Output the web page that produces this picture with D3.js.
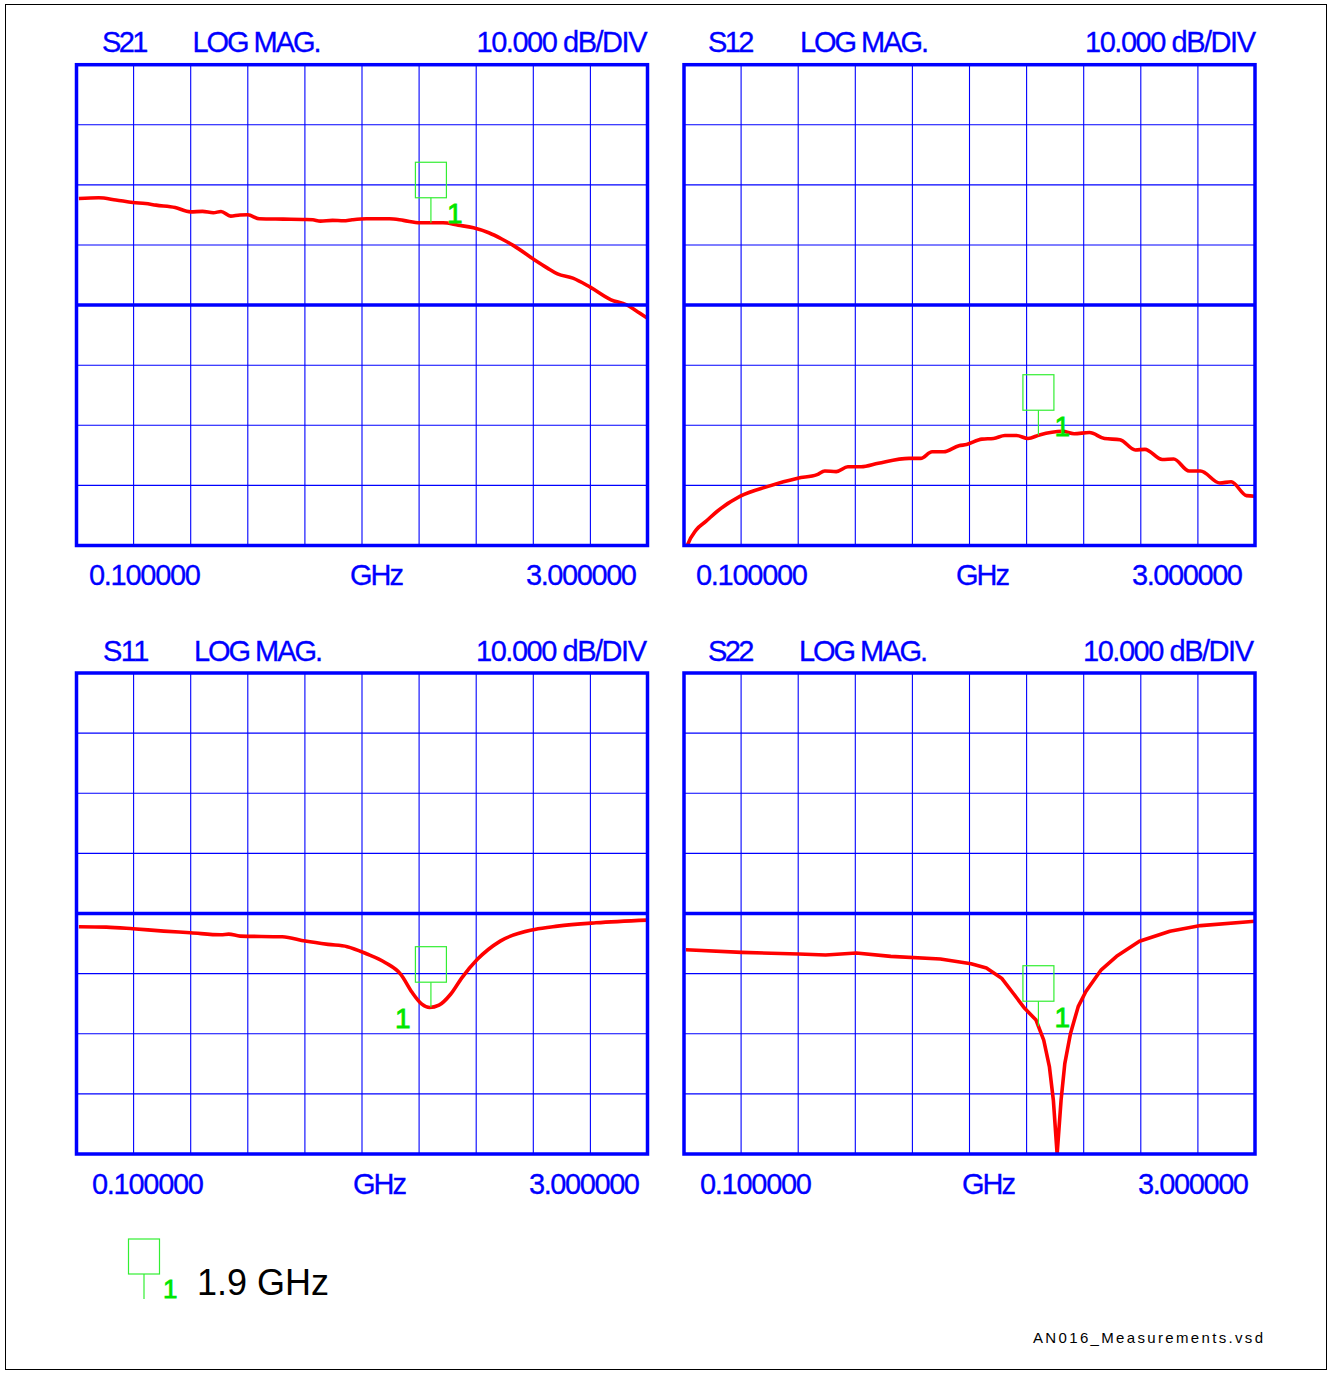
<!DOCTYPE html>
<html>
<head>
<meta charset="utf-8">
<script src="https://cdn.jsdelivr.net/npm/d3@7"></script>
<style>
  html, body { margin: 0; padding: 0; background: #ffffff; }
  svg { display: block; }
</style>
</head>
<body>
<svg id="chart" width="1330" height="1373"></svg>
<script>
// ---------------- DATA ----------------
const freqStart = 0.1;      // GHz
const freqStop = 3.0;       // GHz
const dbPerDiv = 10;
const markerFreq = 1.9;     // GHz
const xTickLabels = ["0.100000", "GHz", "3.000000"];
const formatLabel = "LOG MAG.";
const scaleLabel = "10.000 dB/DIV";
const legendText = "1.9 GHz";
const markerName = "1";
const footerText = "AN016_Measurements.vsd";

// [frequency GHz, dB]
const s21 = [[0.112,17.73],[0.213,17.85],[0.30,17.5],[0.387,17.07],[0.45,16.9],[0.504,16.63],
  [0.601,16.24],[0.679,15.52],[0.74,15.6],[0.795,15.36],[0.834,15.58],[0.883,14.81],[0.93,15.0],
  [0.970,15.03],[1.028,14.36],[1.15,14.3],[1.262,14.25],[1.30,14.2],[1.339,13.98],[1.40,14.1],
  [1.456,14.03],[1.50,14.2],[1.572,14.36],[1.689,14.36],[1.76,14.1],[1.844,13.70],[1.961,13.70],
  [2.039,13.3],[2.116,12.87],[2.194,12.04],[2.26,11.0],[2.320,9.89],[2.427,7.51],[2.49,6.2],
  [2.543,5.19],[2.621,4.48],[2.709,2.98],[2.815,0.88],[2.893,0.06],[2.94,-0.9],[3.0,-2.2]];

const s12 = [[0.112,-40.5],[0.118,-39.9],[0.162,-37.4],[0.211,-36.0],[0.269,-34.3],[0.386,-31.8],
  [0.523,-30.2],[0.678,-28.8],[0.776,-28.2],[0.815,-27.6],[0.873,-27.7],[0.932,-26.9],[1.000,-26.9],
  [1.087,-26.3],[1.243,-25.5],[1.302,-25.5],[1.360,-24.4],[1.419,-24.4],[1.496,-23.4],[1.535,-23.2],
  [1.613,-22.3],[1.672,-22.2],[1.730,-21.7],[1.789,-21.7],[1.847,-22.2],[1.905,-21.6],[2.022,-21.0],
  [2.081,-21.4],[2.159,-21.2],[2.236,-22.2],[2.314,-22.4],[2.392,-24.1],[2.441,-24.0],[2.529,-25.7],
  [2.587,-25.6],[2.665,-27.6],[2.723,-27.6],[2.821,-29.6],[2.879,-29.4],[2.957,-31.7],[3.0,-31.8]];

const s11 = [[0.112,-2.21],[0.252,-2.27],[0.387,-2.54],[0.543,-2.93],[0.679,-3.20],[0.834,-3.54],
  [0.873,-3.43],[0.931,-3.76],[1.145,-3.87],[1.262,-4.59],[1.378,-5.14],[1.475,-5.52],[1.572,-6.69],
  [1.669,-8.18],[1.747,-10.11],[1.805,-13.15],[1.854,-15.08],[1.893,-15.64],[1.941,-15.25],
  [2.000,-13.43],[2.058,-10.66],[2.136,-7.62],[2.252,-4.59],[2.427,-2.65],[2.543,-2.10],
  [2.738,-1.55],[3.0,-1.10]];

const s22 = [[0.110,-6.02],[0.392,-6.46],[0.683,-6.74],[0.819,-6.91],[0.975,-6.57],[1.150,-7.13],
  [1.402,-7.58],[1.558,-8.36],[1.636,-9.08],[1.713,-10.75],[1.772,-13.26],[1.830,-15.77],
  [1.888,-17.72],[1.927,-21.06],[1.956,-25.52],[1.976,-31.09],[1.995,-40.0],[2.015,-31.09],
  [2.034,-24.96],[2.063,-19.94],[2.102,-15.49],[2.141,-12.98],[2.219,-9.36],[2.297,-7.13],
  [2.413,-4.62],[2.568,-2.95],[2.724,-2.01],[3.0,-1.28]];

// ---------------- LAYOUT ----------------
const BLUE = "#0000ff", RED = "#ff0000", GREEN_LINE = "#33ee33", GREEN_TEXT = "#00e600";
const FONT = "'Liberation Sans', Arial, Helvetica, sans-serif";

const panels = [
  { name: "S21", data: s21, left: 76.5, right: 647.5, top: 64.7, bottom: 545.5, labelSide: "right", curve: d3.curveMonotoneX,
    t: [102, 192.5, 476.5], a: [89, 350, 526] },
  { name: "S12", data: s12, left: 684, right: 1255, top: 64.7, bottom: 545.5, labelSide: "right", curve: d3.curveMonotoneX,
    t: [708, 800, 1085], a: [696, 956, 1132] },
  { name: "S11", data: s11, left: 76.5, right: 647.5, top: 673, bottom: 1154, labelSide: "left", curve: d3.curveMonotoneX,
    t: [103, 194, 476], a: [92, 353, 529] },
  { name: "S22", data: s22, left: 684, right: 1255, top: 673, bottom: 1154, labelSide: "right", curve: d3.curveLinear,
    t: [708, 799, 1083], a: [700, 962, 1138] }
];

const svg = d3.select("#chart");

// outer frame
svg.append("rect").attr("x", 5.5).attr("y", 4.5).attr("width", 1321).attr("height", 1365)
  .attr("fill", "none").attr("stroke", "#000").attr("stroke-width", 1);

function interpAt(data, f) {
  const i = d3.bisector(d => d[0]).left(data, f);
  if (i <= 0) return data[0][1];
  if (i >= data.length) return data[data.length - 1][1];
  const a = data[i - 1], b = data[i];
  return a[1] + (b[1] - a[1]) * (f - a[0]) / (b[0] - a[0]);
}

function addText(g, str, x, y, size, fill, len, adjust, strokeW) {
  const t = g.append("text").attr("x", x).attr("y", y)
    .attr("font-family", FONT).attr("font-size", size).attr("fill", fill).text(str);
  if (len) t.attr("textLength", len).attr("lengthAdjust", adjust || "spacing");
  if (strokeW) t.attr("stroke", fill).attr("stroke-width", strokeW);
  return t;
}

panels.forEach((p, idx) => {
  const x = d3.scaleLinear().domain([freqStart, freqStop]).range([p.left, p.right]);
  const y = d3.scaleLinear().domain([-4 * dbPerDiv, 4 * dbPerDiv]).range([p.bottom, p.top]);
  const g = svg.append("g");

  const xDivs = d3.range(1, 10).map(i => freqStart + i * (freqStop - freqStart) / 10);
  const yDivs = d3.range(-3, 4).filter(i => i !== 0).map(i => i * dbPerDiv);

  // grid
  g.selectAll(".vg").data(xDivs).enter().append("line")
    .attr("x1", d => x(d)).attr("x2", d => x(d)).attr("y1", p.top).attr("y2", p.bottom)
    .attr("stroke", BLUE).attr("stroke-width", 1.1);
  g.selectAll(".hg").data(yDivs).enter().append("line")
    .attr("x1", p.left).attr("x2", p.right).attr("y1", d => y(d)).attr("y2", d => y(d))
    .attr("stroke", BLUE).attr("stroke-width", 1.1);

  // clip + trace
  const clipId = "clip" + idx;
  svg.append("clipPath").attr("id", clipId).append("rect")
    .attr("x", p.left).attr("y", p.top - 1).attr("width", p.right - p.left).attr("height", p.bottom - p.top + 2);

  const line = d3.line().x(d => x(d[0])).y(d => y(d[1])).curve(p.curve);
  g.append("path").datum(p.data).attr("d", line).attr("fill", "none")
    .attr("stroke", RED).attr("stroke-width", 3.6).attr("stroke-linejoin", "round")
    .attr("clip-path", "url(#" + clipId + ")");

  // reference line and border
  g.append("line").attr("x1", p.left).attr("x2", p.right).attr("y1", y(0)).attr("y2", y(0))
    .attr("stroke", BLUE).attr("stroke-width", 3.5);
  g.append("rect").attr("x", p.left).attr("y", p.top).attr("width", p.right - p.left).attr("height", p.bottom - p.top)
    .attr("fill", "none").attr("stroke", BLUE).attr("stroke-width", 3.5);

  // marker
  const mx = x(markerFreq), my = y(interpAt(p.data, markerFreq));
  g.append("rect").attr("x", mx - 15.5).attr("y", my - 25 - 35.5).attr("width", 31).attr("height", 35.5)
    .attr("fill", "none").attr("stroke", GREEN_LINE).attr("stroke-width", 1.2);
  g.append("line").attr("x1", mx).attr("x2", mx).attr("y1", my - 25).attr("y2", my)
    .attr("stroke", GREEN_LINE).attr("stroke-width", 1.2);
  if (p.labelSide === "right") addText(g, markerName, mx + 16, my + 0.5, 28, GREEN_TEXT, null, null, 0.8);
  else addText(g, markerName, mx - 36, my + 21, 28, GREEN_TEXT, null, null, 0.8);

  // header texts
  const hy = p.top - 12.5;
  addText(g, p.name, p.t[0], hy, 29, BLUE, 46.5, "spacing", 0.3);
  addText(g, formatLabel, p.t[1], hy, 29, BLUE, 129, "spacing", 0.3);
  addText(g, scaleLabel, p.t[2], hy, 29, BLUE, 171, "spacing", 0.3);

  // axis labels
  const ay = p.bottom + 39.5;
  addText(g, xTickLabels[0], p.a[0], ay, 29, BLUE, 112, "spacing", 0.3);
  addText(g, xTickLabels[1], p.a[1], ay, 29, BLUE, 54, "spacing", 0.3);
  addText(g, xTickLabels[2], p.a[2], ay, 29, BLUE, 111, "spacing", 0.3);
});

// legend
const lg = svg.append("g");
lg.append("rect").attr("x", 128.5).attr("y", 1239).attr("width", 31).attr("height", 35)
  .attr("fill", "none").attr("stroke", GREEN_LINE).attr("stroke-width", 1.2);
lg.append("line").attr("x1", 144).attr("x2", 144).attr("y1", 1274).attr("y2", 1299)
  .attr("stroke", GREEN_LINE).attr("stroke-width", 1.2);
addText(lg, markerName, 163, 1298, 26, GREEN_TEXT, null, null, 0.8);
addText(lg, legendText, 197, 1295, 36, "#000");

// footer
addText(svg, footerText, 1033, 1343, 15, "#000", 230, "spacing");
</script>
</body>
</html>
